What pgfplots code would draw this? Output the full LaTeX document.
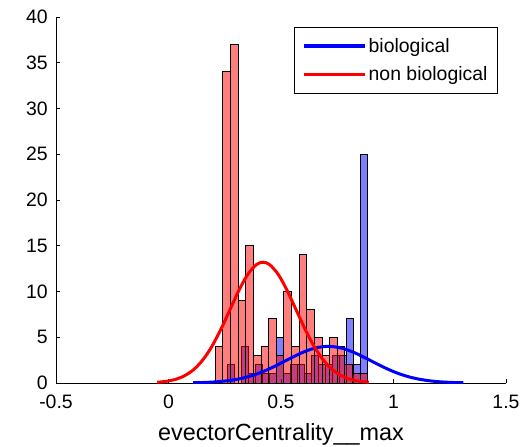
\documentclass[border=0pt]{standalone}
\usepackage{fontspec}
\setmainfont{Liberation Sans}
\usepackage{pgfplots}
\pgfplotsset{compat=1.18}
\begin{document}
\begin{tikzpicture}
\useasboundingbox (-56bp,-64bp) rectangle (474bp,383bp);
\begin{axis}[
  at={(0,0)}, anchor=south west,
  scale only axis, width=450bp, height=366bp,
  xmin=-0.5, xmax=1.5, ymin=0, ymax=40,
  axis x line*=bottom, axis y line*=left,
  axis line style={-, line width=0.9bp, black},
  xtick={-0.5,0,0.5,1,1.5}, xticklabels={-0.5,0,0.5,1,1.5},
  ytick={0,5,10,15,20,25,30,35,40}, yticklabels={0,5,10,15,20,25,30,35,40},
  tick align=inside, major tick length=4bp,
  tick style={line width=0.8bp, black},
  ticklabel style={font=\fontsize{19.5}{23}\selectfont, inner sep=0pt},
  xticklabel style={anchor=north, yshift=-12bp},
  yticklabel style={anchor=east, xshift=-8bp},
  xlabel={evectorCentrality\_\_max},
  xlabel style={font=\fontsize{23.5}{28}\selectfont, at={(axis description cs:0.5,0)}, anchor=base, yshift=-57bp, inner sep=0pt},
  legend style={at={(rel axis cs:0.982,0.973)}, anchor=north east, draw=black, line width=0.8bp, fill=white,
    inner xsep=8bp, inner ysep=9bp, row sep=9bp, font=\fontsize{19.5}{23}\selectfont,
    nodes={inner sep=2bp}},
  legend cell align=left,
  legend image code/.code={\draw[line width=3.2bp] (0bp,0bp) -- (61bp,0bp);},
]
% blue histogram (biological)
\addplot[ybar interval, fill=blue, fill opacity=0.5, draw=black, line width=1bp, forget plot] coordinates {
(0.2644,2) (0.2954,0) (0.3265,4) (0.3575,1) (0.3886,2) (0.4196,1) (0.4506,1) (0.4817,5) (0.5127,1) (0.5438,2)
(0.5748,2) (0.6058,1) (0.6369,3) (0.6679,2) (0.6990,2) (0.7300,3) (0.7610,3) (0.7921,7) (0.8231,2) (0.8542,25) (0.8852,0)};
% red histogram (non biological)
\addplot[ybar interval, fill=red, fill opacity=0.5, draw=black, line width=1bp, forget plot] coordinates {
(0.2080,4) (0.2419,34) (0.2758,37) (0.3097,9) (0.3436,15) (0.3775,3) (0.4114,4) (0.4453,7) (0.4792,3) (0.5131,10)
(0.5470,4) (0.5809,14) (0.6148,8) (0.6487,5) (0.6826,3) (0.7165,5) (0.7504,4) (0.7843,2) (0.8182,1) (0.8521,1) (0.8860,0)};
% fitted curves
\addplot[blue, line width=3bp, smooth] coordinates {
(0.11,0.027) (0.15,0.052) (0.19,0.095) (0.23,0.164) (0.27,0.274) (0.31,0.436) (0.35,0.664) (0.39,0.968)
(0.43,1.350) (0.47,1.801) (0.51,2.299) (0.55,2.806) (0.59,3.277) (0.63,3.661) (0.67,3.912) (0.71,4.0)
(0.75,3.912) (0.79,3.661) (0.83,3.277) (0.87,2.806) (0.91,2.299) (0.95,1.801) (0.99,1.350) (1.03,0.968)
(1.07,0.664) (1.11,0.436) (1.15,0.274) (1.19,0.164) (1.23,0.095) (1.27,0.052) (1.31,0.027)};
\addlegendentry{biological}
\addplot[red, line width=3bp, smooth] coordinates {
(-0.05,0.080) (-0.01,0.183) (0.03,0.391) (0.07,0.776) (0.11,1.428) (0.15,2.443) (0.19,3.882) (0.23,5.725)
(0.27,7.843) (0.31,9.977) (0.35,11.785) (0.39,12.928) (0.42,13.2) (0.45,12.928) (0.49,11.785) (0.53,9.977)
(0.57,7.843) (0.61,5.725) (0.65,3.882) (0.69,2.443) (0.73,1.428) (0.77,0.776) (0.81,0.391) (0.85,0.183) (0.89,0.080)};
\addlegendentry{non biological}
\end{axis}
\end{tikzpicture}
\end{document}
